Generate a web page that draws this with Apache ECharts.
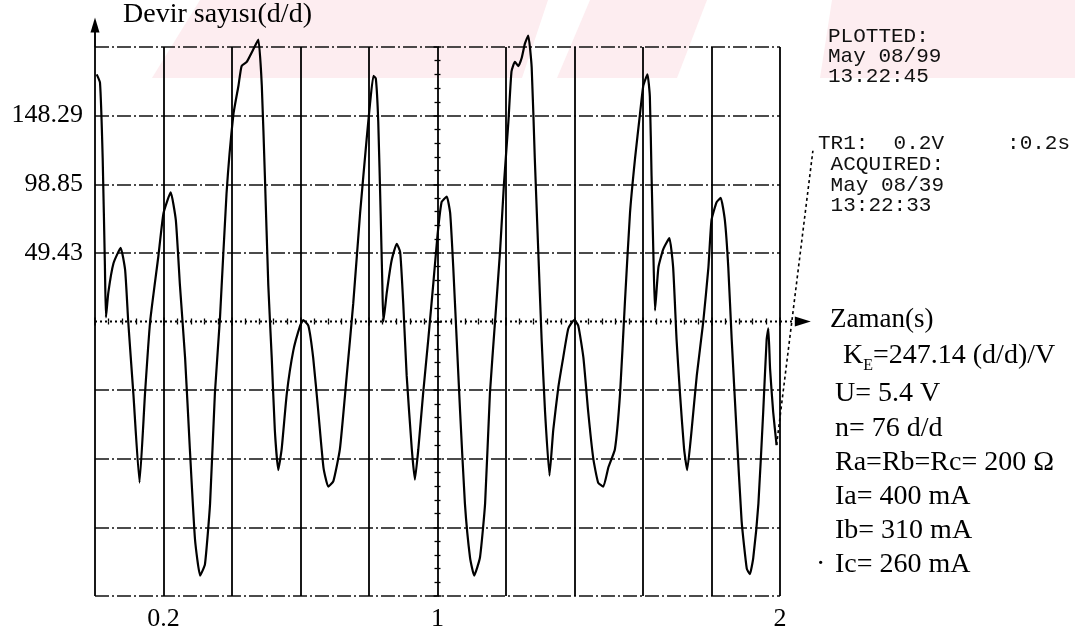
<!DOCTYPE html>
<html>
<head>
<meta charset="utf-8">
<script src="https://cdn.jsdelivr.net/npm/echarts@6/dist/echarts.min.js"></script>
<style>
html,body{margin:0;padding:0;background:#fff;}
#chart{width:1075px;height:636px;}
</style>
</head>
<body>
<div id="chart"></div>
<script>
// ---- data ----
const timeS = [0.005,0.0146,0.0224,0.029,0.032,0.039,0.054,0.075,0.088,0.097,0.112,0.13,0.146,0.161,0.185,0.2,0.221,0.236,0.248,0.263,0.277,0.292,0.307,0.321,0.336,0.35,0.365,0.384,0.404,0.419,0.428,0.443,0.462,0.477,0.487,0.496,0.506,0.516,0.525,0.535,0.545,0.56,0.579,0.599,0.608,0.623,0.637,0.652,0.667,0.681,0.696,0.715,0.735,0.754,0.774,0.793,0.803,0.813,0.82,0.827,0.834,0.839,0.842,0.852,0.866,0.881,0.891,0.9,0.91,0.925,0.934,0.944,0.958,0.973,0.988,1.0,1.012,1.027,1.037,1.046,1.056,1.066,1.08,1.095,1.107,1.124,1.139,1.153,1.168,1.183,1.194,1.207,1.216,1.226,1.236,1.246,1.255,1.265,1.275,1.284,1.294,1.304,1.314,1.327,1.338,1.353,1.367,1.382,1.399,1.411,1.426,1.44,1.455,1.469,1.484,1.499,1.518,1.533,1.547,1.562,1.577,1.591,1.601,1.613,1.62,1.625,1.63,1.635,1.645,1.659,1.677,1.688,1.698,1.708,1.72,1.729,1.742,1.757,1.776,1.791,1.8,1.815,1.827,1.839,1.849,1.859,1.873,1.888,1.903,1.912,1.922,1.937,1.951,1.961,1.966,1.971,1.98,1.99];
const speedDD = [178,172,118,39,3,21,42,53,37,0,-52,-116,-52,0,47,78,93,73,26,-26,-92,-157,-183,-175,-131,-52,3,92,149,170,184,187,196,203,170,105,26,-26,-78,-107,-92,-52,-21,-3,1,-3,-26,-65,-105,-119,-115,-92,-39,13,78,131,157,177,175,144,78,26,0,21,44,56,50,13,-39,-92,-114,-92,-52,-13,28,62,86,90,78,39,-13,-65,-131,-170,-183,-170,-131,-52,0,52,99,144,180,187,184,190,200,206,183,118,52,-13,-65,-111,-78,-47,-26,-5,1,-3,-26,-65,-99,-116,-119,-105,-92,-52,13,78,118,149,170,178,162,105,52,8,39,52,60,39,-13,-52,-92,-107,-78,-39,0,39,73,86,89,73,39,-13,-78,-144,-178,-182,-170,-131,-65,-13,-5,-34,-65,-89];
const yTickLabels = ['49.43','98.85','148.29'];
const xTickLabels = ['0.2','1','2'];
const annotT = [1.99, 2.096];
const annotV = [-89, 123];
const zeroAxisEndT = 2.09;
const yAxisArrowTop = 219;
const plottedLines = ['PLOTTED:','May 08/99','13:22:45'];
const acquiredLines = ['TR1:  0.2V     :0.2s',' ACQUIRED:',' May 08/39',' 13:22:33'];
const paramLines = ['U= 5.4 V','n= 76 d/d','Ra=Rb=Rc= 200 Ω','Ia= 400 mA','Ib= 310 mA','Ic= 260 mA'];

const DIV = 49.43;
const YMAX = 4 * DIV;
const SERIF = '"Liberation Serif", "Times New Roman", serif';
const MONO = '"Liberation Mono", "DejaVu Sans Mono", monospace';

const chart = echarts.init(document.getElementById('chart'), null, {renderer: 'canvas'});

function tickAxisX(inside) {
  return {
    type: 'value', min: 0, max: 2, interval: 0.2, position: 'bottom',
    axisLine: {show: false, onZero: true, onZeroAxisIndex: 0},
    axisTick: {show: true, inside: inside, length: 4, lineStyle: {color: '#000', width: 1.5}},
    minorTick: {show: true, splitNumber: 5, length: 3, lineStyle: {color: '#000', width: 1.3}},
    axisLabel: {show: false}, splitLine: {show: false}, minorSplitLine: {show: false}
  };
}
function tickAxisY(inside) {
  return {
    type: 'value', min: -YMAX, max: YMAX, interval: DIV, position: 'left', offset: -342.5,
    axisLine: {show: false, onZero: false},
    axisTick: {show: true, inside: inside, length: 4, lineStyle: {color: '#000', width: 1.5}},
    minorTick: {show: true, splitNumber: 5, length: 3, lineStyle: {color: '#000', width: 1.3}},
    axisLabel: {show: false}, splitLine: {show: false}
  };
}

const option = {
  animation: false,
  backgroundColor: '#fff',
  grid: {left: 95, right: 295, top: 47, bottom: 40, containLabel: false},
  xAxis: [
    {
      type: 'value', min: 0, max: 2, interval: 0.2, position: 'bottom',
      axisLine: {show: false, onZero: false}, axisTick: {show: false},
      axisLabel: {
        show: true, margin: 10, color: '#000', fontFamily: SERIF, fontSize: 26,
        formatter: v => { const s = xTickLabels.find(l => Math.abs(parseFloat(l) - v) < 1e-6); return s || ''; }
      },
      splitLine: {show: true, lineStyle: {color: '#000', width: 1.8, type: 'solid'}}
    },
    tickAxisX(false),
    tickAxisX(true)
  ],
  yAxis: [
    {
      type: 'value', min: -YMAX, max: YMAX, interval: DIV, position: 'left',
      axisLine: {show: false, onZero: false}, axisTick: {show: false},
      axisLabel: {
        show: true, margin: 12, color: '#000', fontFamily: SERIF, fontSize: 26,
        formatter: v => { const k = Math.round(v / DIV); return (k >= 1 && k <= 3) ? yTickLabels[k - 1] : ''; }
      },
      splitLine: {show: true, lineStyle: {
        color: ['#111','#111','#111','#111','rgba(0,0,0,0)','#111','#111','#111','#111'],
        width: 1.5, type: [14, 3, 2, 3]
      }}
    },
    tickAxisY(false),
    tickAxisY(true)
  ],
  series: [
    {
      name: 'Devir sayısı', type: 'line', xAxisIndex: 0, yAxisIndex: 0,
      data: timeS.map((t, i) => [t, speedDD[i]]),
      showSymbol: false, symbol: 'none', smooth: 0.15, clip: false, silent: true, z: 5,
      lineStyle: {color: '#000', width: 2.2}
    }
  ]
};
chart.setOption(option);

// ---- decorations placed through the chart's own scales ----
const px = (t, v) => chart.convertToPixel({xAxisIndex: 0, yAxisIndex: 0}, [t, v]);
function arrowHead(tip, dir, len, half) {
  const bx = tip[0] - dir[0] * len, by = tip[1] - dir[1] * len;
  return [[tip[0], tip[1]], [bx - dir[1] * half, by + dir[0] * half], [bx + dir[1] * half, by - dir[0] * half]];
}
const graphics = [];
// faint pink watermark band of the scan
[[[152,78],[200,0],[548,0],[522,78]], [[557,78],[590,0],[707,0],[677,78]], [[820,78],[832,0],[1075,0],[1075,78]]].forEach(p => {
  graphics.push({type: 'polygon', z: -10, silent: true, shape: {points: p}, style: {fill: '#fdedf0'}});
});
// zero (time) axis: dotted line with arrow
const z0 = px(0, 0), z1 = px(zeroAxisEndT, 0);
graphics.push({type: 'polyline', z: 20, silent: true, shape: {points: [z0, [z1[0] - 8, z1[1]]]}, style: {stroke: '#000', lineWidth: 1.9, lineDash: [2, 3], fill: null}});
graphics.push({type: 'polygon', z: 20, silent: true, shape: {points: arrowHead(z1, [1, 0], 16, 5)}, style: {fill: '#000'}});
// vertical axis arrow
const y0 = px(0, YMAX), y1 = px(0, yAxisArrowTop);
graphics.push({type: 'polyline', z: 20, silent: true, shape: {points: [y0, [y1[0], y1[1] + 8]]}, style: {stroke: '#000', lineWidth: 1.9, fill: null}});
graphics.push({type: 'polygon', z: 20, silent: true, shape: {points: arrowHead(y1, [0, -1], 15, 4.5)}, style: {fill: '#000'}});
// dotted leader from the trace end to the TR1 note
graphics.push({type: 'polyline', z: 20, silent: true, shape: {points: annotT.map((t, i) => px(t, annotV[i]))}, style: {stroke: '#000', lineWidth: 1.6, lineDash: [3, 3], fill: null}});

graphics.push({type: 'text', left: 123, top: 1, z: 10, style: {text: 'Devir sayısı(d/d)', font: '28px ' + SERIF, fill: '#000'}});
graphics.push({type: 'text', x: 828, y: 26, z: 10, style: {text: plottedLines.join('\n'), font: '21px ' + MONO, lineHeight: 20, fill: '#111', verticalAlign: 'top'}});
graphics.push({type: 'text', x: 818, y: 133, z: 10, style: {text: acquiredLines.join('\n'), font: '21px ' + MONO, lineHeight: 20.8, fill: '#111', verticalAlign: 'top'}});
graphics.push({type: 'text', x: 830, y: 320, z: 10, style: {text: 'Zaman(s)', font: '27px ' + SERIF, fill: '#000', verticalAlign: 'middle'}});
graphics.push({type: 'text', x: 843, y: 356, z: 10, style: {
  text: '{a|K}{s|E}{a|=247.14 (d/d)/V}', verticalAlign: 'middle',
  rich: {a: {font: '28px ' + SERIF, fill: '#000', verticalAlign: 'bottom'}, s: {font: '16px ' + SERIF, fill: '#000', verticalAlign: 'bottom', padding: [0, 0, -4, 0]}}
}});
paramLines.forEach((t, i) => {
  graphics.push({type: 'text', x: 835, y: 394 + i * 34.2, z: 10, style: {text: t, font: '28px ' + SERIF, fill: '#000', verticalAlign: 'middle'}});
});
graphics.push({type: 'text', x: 816, y: 565, z: 10, style: {text: '·', font: '28px ' + SERIF, fill: '#000', verticalAlign: 'middle'}});

chart.setOption({graphic: graphics});
</script>
</body>
</html>
